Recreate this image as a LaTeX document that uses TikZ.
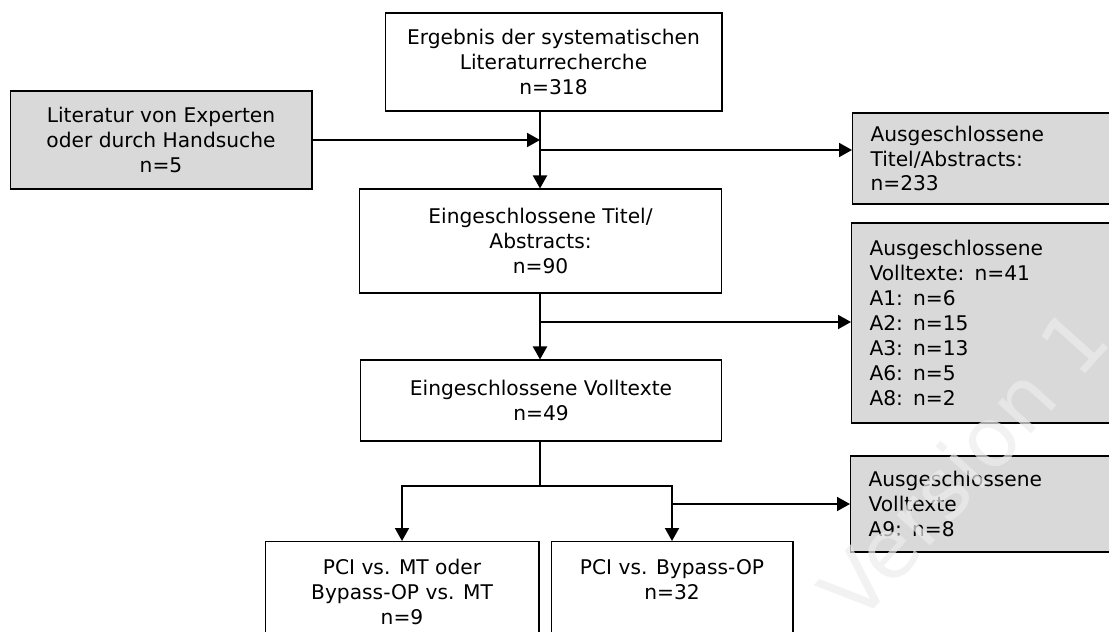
\documentclass[tikz,border=0pt]{standalone}
\usepackage{fontspec}
\setmainfont{DejaVu Sans}
\usetikzlibrary{arrows.meta}
\definecolor{exgray}{RGB}{217,217,217}
\definecolor{wmgray}{RGB}{236,236,236}

\begin{document}
\begin{tikzpicture}[x=0.02cm,y=-0.02cm,
    font=\fontsize{11.5}{14.2}\selectfont,
    box/.style={draw,line width=0.6pt,align=center,inner sep=0pt},
    exbox/.style={draw,line width=0.6pt,fill=exgray,align=left,anchor=west,
        text width=5.3cm,inner xsep=0.36cm,inner ysep=0pt},
    leaf/.style={draw,line width=0.6pt,align=center,anchor=north,
        inner xsep=0pt,inner ysep=10pt},
    arr/.style={-{Triangle[length=0.26cm,width=0.28cm]},line width=1.1pt},
    conn/.style={line width=1.1pt}]

    \useasboundingbox (0,0) rectangle (1109,632);
    \clip (0,0) rectangle (1109,632);

    \node[box,minimum width=6.74cm,minimum height=1.96cm] (erg) at (553.5,62) {Ergebnis der systematischen\\Literaturrecherche\\n=318};
    \node[box,fill=exgray,minimum width=6.04cm,minimum height=1.96cm] (lit) at (161,140) {Literatur von Experten\\oder durch Handsuche\\n=5};
    \node[box,minimum width=7.26cm,minimum height=2.08cm] (tit) at (540.5,241) {Eingeschlossene Titel/\\Abstracts:\\n=90};
    \node[box,minimum width=7.24cm,minimum height=1.62cm] (voll) at (541,400.5) {Eingeschlossene Volltexte\\n=49};
    \node[leaf,minimum width=5.48cm] (pciA) at (402,541) {PCI vs. MT oder\\Bypass-OP vs. MT\\n=9};
    \node[leaf,minimum width=4.84cm] (pciB) at (672,541) {PCI vs. Bypass-OP\\n=32\\\strut};
    \node[exbox,minimum height=1.82cm] (exTit) at (852,158.5) {Ausgeschlossene\\Titel/Abstracts:\\n=233};
    \node[exbox,minimum height=4cm] (exVoll) at (851,323) {Ausgeschlossene\\Volltexte: n=41\\A1: n=6\\A2: n=15\\A3: n=13\\A6: n=5\\A8: n=2};
    \node[exbox,minimum height=1.92cm] (exNeun) at (850,504) {Ausgeschlossene\\Volltexte\\A9: n=8};

    \coordinate (m1) at (540,140);
    \coordinate (m2) at (540,150);
    \coordinate (m3) at (540,322);
    \coordinate (m4) at (540,486);
    \coordinate (m5) at (672,504);

    \draw[arr] (lit) -- (m1);
    \draw[arr] (erg.south -| m1) -- (tit.north -| m1);
    \draw[arr] (m2) -- (m2 -| exTit.west);
    \draw[arr] (tit.south -| m1) -- (voll.north -| m1);
    \draw[arr] (m3) -- (m3 -| exVoll.west);
    \draw[conn] (voll.south -| m4) -- (m4);
    \draw[arr] (m4) -| (pciA.north);
    \draw[arr] (m4) -| (pciB.north);
    \draw[arr] (m5) -- (m5 -| exNeun.west);

    \node[rotate=48,anchor=base west,text=wmgray,opacity=0.7,font=\fontsize{47}{47}\selectfont] (wm) at (854,631) {Version 1};
\end{tikzpicture}
\end{document}
